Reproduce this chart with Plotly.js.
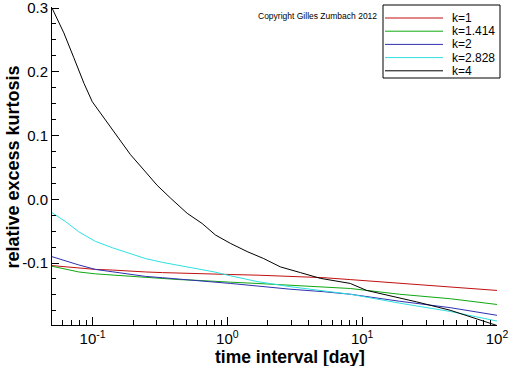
<!DOCTYPE html>
<html>
<head>
<meta charset="utf-8">
<script src="https://cdn.plot.ly/plotly-3.0.1.min.js"></script>
<style>html,body{margin:0;padding:0;background:#fff;}#chart{width:512px;height:366px;}</style>
</head>
<body>
<div id="chart"></div>
<script>
// time interval [day] grid for k = 1 ... 2.828
const xGrid = [0.05, 0.063, 0.079, 0.105, 0.14, 0.186, 0.247, 0.33, 0.44, 0.58, 0.8, 1.05, 1.66, 2.9, 5.2, 8.2, 19, 45, 100];
const yK1     = [-0.104, -0.106, -0.108, -0.110, -0.111, -0.113, -0.114, -0.115, -0.116, -0.116, -0.117, -0.118, -0.119, -0.121, -0.123, -0.126, -0.132, -0.137, -0.143];
const yK1414  = [-0.105, -0.110, -0.114, -0.117, -0.119, -0.121, -0.123, -0.124, -0.126, -0.127, -0.129, -0.130, -0.132, -0.135, -0.137, -0.140, -0.149, -0.156, -0.165];
const yK2     = [-0.090, -0.097, -0.103, -0.110, -0.114, -0.117, -0.121, -0.123, -0.125, -0.127, -0.130, -0.132, -0.136, -0.141, -0.145, -0.149, -0.160, -0.170, -0.182];
const yK2828  = [-0.021, -0.035, -0.051, -0.066, -0.076, -0.085, -0.093, -0.099, -0.104, -0.108, -0.114, -0.120, -0.129, -0.137, -0.144, -0.149, -0.163, -0.176, -0.191];
// k = 4
const xK4 = [0.05, 0.0612, 0.0726, 0.0863, 0.0995, 0.1146, 0.152, 0.191, 0.24, 0.301, 0.378, 0.503, 0.65, 0.815, 1.05, 1.4, 1.86, 2.47, 3.48, 4.89, 8.15, 10.8, 25.4, 44.9, 100];
const yK4 = [0.300, 0.261, 0.222, 0.182, 0.153, 0.135, 0.098, 0.070, 0.046, 0.022, 0.002, -0.022, -0.038, -0.056, -0.069, -0.082, -0.093, -0.106, -0.115, -0.124, -0.132, -0.143, -0.161, -0.174, -0.198];

const seriesNames = ['k=1', 'k=1.414', 'k=2', 'k=2.828', 'k=4'];
const seriesColors = ['#c01010', '#10a810', '#3030b0', '#30e0e0', '#000000'];
const seriesX = [xGrid, xGrid, xGrid, xGrid, xK4];
const seriesY = [yK1, yK1414, yK2, yK2828, yK4];

const xTickVals = [0.1, 1, 10, 100];
const xTickText = ['10<sup>-1</sup>', '10<sup>0</sup>', '10<sup>1</sup>', '10<sup>2</sup>'];
const yTickVals = [-0.1, 0.0, 0.1, 0.2, 0.3];
const yTickText = ['-0.1', '0.0', '0.1', '0.2', '0.3'];

const copyrightText = 'Copyright Gilles Zumbach 2012';
const xTitle = 'time interval [day]';
const yTitle = 'relative excess kurtosis';

const traces = seriesNames.map((n, i) => ({
  x: seriesX[i], y: seriesY[i], name: n, type: 'scatter', mode: 'lines',
  line: {color: seriesColors[i], width: 1}, showlegend: false, hoverinfo: 'skip'
}));

// minor tick values on log axis
const xMinor = [];
for (let d = -2; d <= 1; d++) for (let m = 2; m <= 9; m++) xMinor.push(m * Math.pow(10, d));

const FONT = 'Liberation Sans, Arial, sans-serif';
const W = 512, H = 366, mL = 52, mR = 15, mT = 7, mB = 41;
const pw = W - mL - mR, ph = H - mT - mB;
const px = v => (v - mL) / pw;
const py = v => (H - mB - v) / ph;

// custom legend (box, sample lines, labels)
const shapes = [{type: 'rect', xref: 'paper', yref: 'paper', x0: px(383), x1: px(500), y0: py(78), y1: py(5),
  line: {color: '#000', width: 1}, fillcolor: '#fff', layer: 'above'}];
const annotations = [];
seriesNames.forEach((n, i) => {
  const yc = 18 + i * 13.2;
  shapes.push({type: 'line', xref: 'paper', yref: 'paper', x0: px(385), x1: px(443), y0: py(yc), y1: py(yc),
    line: {color: seriesColors[i], width: 1}, layer: 'above'});
  annotations.push({xref: 'paper', yref: 'paper', x: px(450), y: py(yc), text: n, showarrow: false,
    xanchor: 'left', yanchor: 'middle', font: {family: FONT, size: 12, color: '#000'}});
});
annotations.push({xref: 'paper', yref: 'paper', x: px(256), y: py(16), text: copyrightText, showarrow: false,
  xanchor: 'left', yanchor: 'middle', font: {family: FONT, size: 8.5, color: '#000'}});
// axis titles
annotations.push({xref: 'paper', yref: 'paper', x: px(290), y: py(356.5), text: '<b>' + xTitle + '</b>', showarrow: false,
  xanchor: 'center', yanchor: 'middle', font: {family: FONT, size: 17.5, color: '#000'}});
annotations.push({xref: 'paper', yref: 'paper', x: px(12), y: py(167.5), text: '<b>' + yTitle + '</b>', showarrow: false,
  textangle: -90, xanchor: 'center', yanchor: 'middle', font: {family: FONT, size: 18, color: '#000'}});

const layout = {
  width: W, height: H,
  margin: {l: mL, r: mR, t: mT, b: mB, pad: 0},
  paper_bgcolor: '#fff', plot_bgcolor: '#fff',
  showlegend: false,
  font: {family: FONT, color: '#000'},
  xaxis: {
    type: 'log', range: [Math.log10(0.05), 2],
    tickmode: 'array', tickvals: xTickVals, ticktext: xTickText,
    ticks: 'inside', ticklen: 8, tickwidth: 1, tickcolor: '#000', ticklabeloverflow: 'allow',
    minor: {tickmode: 'array', tickvals: xMinor, ticks: 'inside', ticklen: 5, tickwidth: 1, tickcolor: '#000', showgrid: false},
    showgrid: false, zeroline: false, showline: true, linecolor: '#000', linewidth: 1, mirror: false,
    tickfont: {size: 15, color: '#000'}
  },
  yaxis: {
    range: [-0.1972, 0.3016],
    tickmode: 'array', tickvals: yTickVals, ticktext: yTickText,
    ticks: 'inside', ticklen: 7, tickwidth: 1, tickcolor: '#000', ticklabeloverflow: 'allow',
    minor: {dtick: 0.025, tick0: 0, ticks: 'inside', ticklen: 4, tickwidth: 1, tickcolor: '#000', showgrid: false},
    showgrid: false, zeroline: false, showline: true, linecolor: '#000', linewidth: 1, mirror: false,
    tickfont: {size: 15, color: '#000'}
  },
  shapes: shapes,
  annotations: annotations
};

Plotly.newPlot('chart', traces, layout, {staticPlot: true, displayModeBar: false});
</script>
</body>
</html>
